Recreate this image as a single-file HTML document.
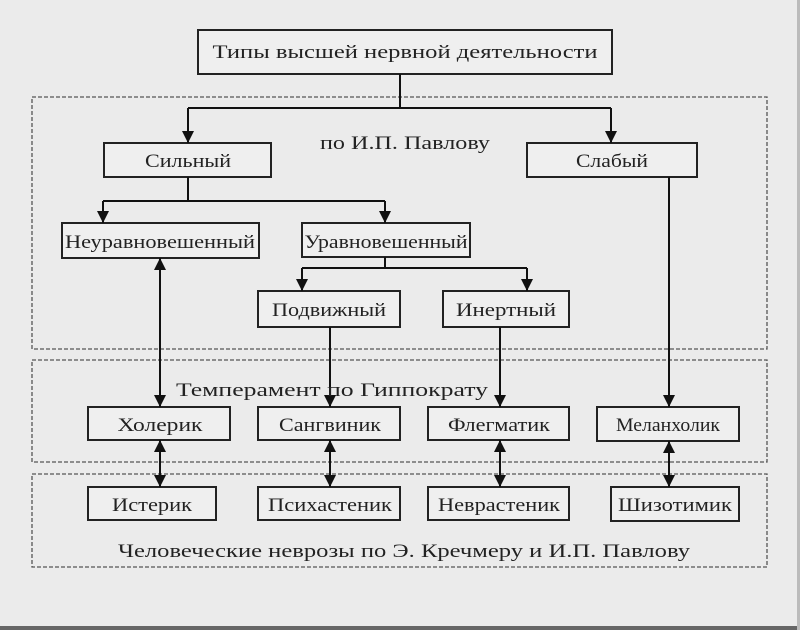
<!DOCTYPE html>
<html><head><meta charset="utf-8"><style>
html,body{margin:0;padding:0;background:#ebebeb;}
svg{display:block}
text{font-family:"Liberation Serif","DejaVu Serif",serif;fill:#222;}
</style></head><body>
<svg width="800" height="630" viewBox="0 0 800 630" xmlns="http://www.w3.org/2000/svg">
<defs>
<marker id="a" viewBox="0 0 10 10" refX="10" refY="5" markerWidth="12" markerHeight="12" markerUnits="userSpaceOnUse" orient="auto"><path d="M0,0 L10,5 L0,10 z" fill="#111"/></marker>
<marker id="s" viewBox="0 0 10 10" refX="0" refY="5" markerWidth="12" markerHeight="12" markerUnits="userSpaceOnUse" orient="auto"><path d="M10,0 L0,5 L10,10 z" fill="#111"/></marker>
</defs>
<rect x="0" y="0" width="800" height="630" fill="#ebebeb"/>
<rect x="0" y="626" width="800" height="4" fill="#666"/>
<rect x="797" y="0" width="3" height="630" fill="#bbb"/>
<g fill="none" stroke="#555" stroke-width="1.3" stroke-dasharray="4,2">
<rect x="32" y="97" width="735" height="252"/>
<rect x="32" y="360" width="735" height="102"/>
<rect x="32" y="474" width="735" height="93"/>
</g>
<g fill="#efefef" stroke="#222" stroke-width="2">
<rect x="198" y="30" width="414" height="44"/>
<rect x="104" y="143" width="167" height="34"/>
<rect x="527" y="143" width="170" height="34"/>
<rect x="62" y="223" width="197" height="35"/>
<rect x="302" y="223" width="168" height="34"/>
<rect x="258" y="291" width="142" height="36"/>
<rect x="443" y="291" width="126" height="36"/>
<rect x="88" y="407" width="142" height="33"/>
<rect x="258" y="407" width="142" height="33"/>
<rect x="428" y="407" width="141" height="33"/>
<rect x="597" y="407" width="142" height="34"/>
<rect x="88" y="487" width="128" height="33"/>
<rect x="258" y="487" width="142" height="33"/>
<rect x="428" y="487" width="141" height="33"/>
<rect x="611" y="487" width="128" height="34"/>
</g>
<g fill="none" stroke="#111" stroke-width="2">
<path d="M400,74 V108 M188,108 H611"/>
<path d="M188,108 V143" marker-end="url(#a)"/>
<path d="M611,108 V143" marker-end="url(#a)"/>
<path d="M188,177 V201 M103,201 H385"/>
<path d="M103,201 V223" marker-end="url(#a)"/>
<path d="M385,201 V223" marker-end="url(#a)"/>
<path d="M385,257 V268 M302,268 H527"/>
<path d="M302,268 V291" marker-end="url(#a)"/>
<path d="M527,268 V291" marker-end="url(#a)"/>
<path d="M160,258 V407" marker-start="url(#s)" marker-end="url(#a)"/>
<path d="M330,327 V407" marker-end="url(#a)"/>
<path d="M500,327 V407" marker-end="url(#a)"/>
<path d="M669,177 V407" marker-end="url(#a)"/>
<path d="M160,440 V487" marker-start="url(#s)" marker-end="url(#a)"/>
<path d="M330,440 V487" marker-start="url(#s)" marker-end="url(#a)"/>
<path d="M500,440 V487" marker-start="url(#s)" marker-end="url(#a)"/>
<path d="M669,441 V487" marker-start="url(#s)" marker-end="url(#a)"/>
</g>
<g font-size="19" text-anchor="middle">
<text x="405" y="58" textLength="385" lengthAdjust="spacingAndGlyphs">Типы высшей нервной деятельности</text>
<text x="405" y="149" textLength="170" lengthAdjust="spacingAndGlyphs">по И.П. Павлову</text>
<text x="188" y="167" textLength="86" lengthAdjust="spacingAndGlyphs">Сильный</text>
<text x="612" y="167" textLength="72" lengthAdjust="spacingAndGlyphs">Слабый</text>
<text x="160" y="248" textLength="190" lengthAdjust="spacingAndGlyphs">Неуравновешенный</text>
<text x="386" y="248" textLength="163" lengthAdjust="spacingAndGlyphs">Уравновешенный</text>
<text x="329" y="316" textLength="114" lengthAdjust="spacingAndGlyphs">Подвижный</text>
<text x="506" y="316" textLength="100" lengthAdjust="spacingAndGlyphs">Инертный</text>
<text x="332" y="396" textLength="312" lengthAdjust="spacingAndGlyphs">Темперамент  по Гиппократу</text>
<text x="160" y="431" textLength="85" lengthAdjust="spacingAndGlyphs">Холерик</text>
<text x="330" y="431" textLength="102" lengthAdjust="spacingAndGlyphs">Сангвиник</text>
<text x="499" y="431" textLength="102" lengthAdjust="spacingAndGlyphs">Флегматик</text>
<text x="668" y="431" textLength="104" lengthAdjust="spacingAndGlyphs">Меланхолик</text>
<text x="152" y="511" textLength="80" lengthAdjust="spacingAndGlyphs">Истерик</text>
<text x="330" y="511" textLength="124" lengthAdjust="spacingAndGlyphs">Психастеник</text>
<text x="499" y="511" textLength="122" lengthAdjust="spacingAndGlyphs">Неврастеник</text>
<text x="675" y="511" textLength="114" lengthAdjust="spacingAndGlyphs">Шизотимик</text>
<text x="404" y="557" textLength="572" lengthAdjust="spacingAndGlyphs">Человеческие неврозы по Э. Кречмеру  и И.П. Павлову</text>
</g>
</svg>
</body></html>
